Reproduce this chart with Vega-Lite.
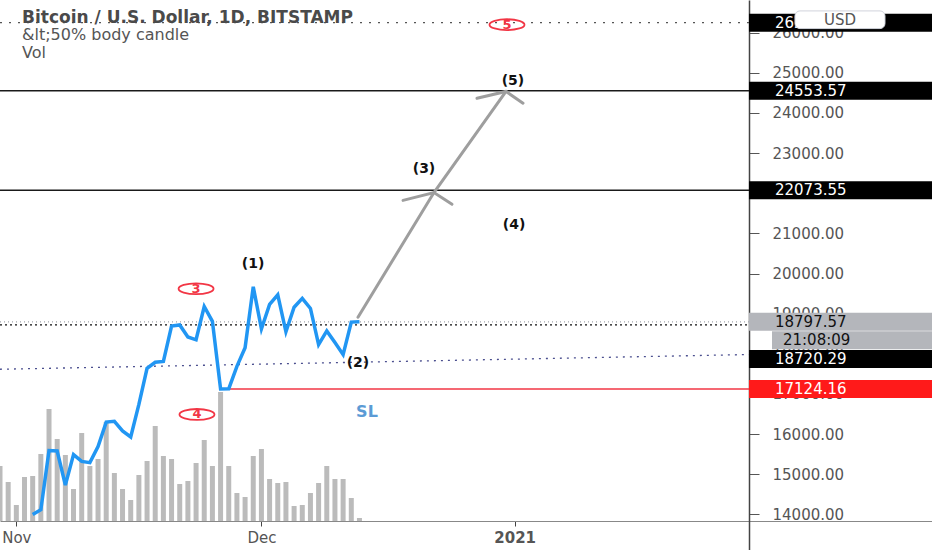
{
  "$schema": "https://vega.github.io/schema/vega-lite/v6.json",
  "width": 932,
  "height": 550,
  "autosize": {"type": "none"},
  "padding": 0,
  "background": "white",
  "title": {
    "text": "Bitcoin / U.S. Dollar, 1D, BITSTAMP",
    "subtitle": ["&lt;50% body candle", "Vol"],
    "anchor": "start",
    "frame": "group",
    "orient": "top",
    "offset": 0,
    "dx": 22,
    "dy": 62,
    "font": "DejaVu Sans",
    "fontSize": 17,
    "fontWeight": "bold",
    "color": "#4a4a4a",
    "subtitleFont": "DejaVu Sans",
    "subtitleFontSize": 16,
    "subtitleColor": "#555555",
    "subtitlePadding": 0,
    "subtitleLineHeight": 18
  },
  "datasets": {
    "daily": [
      {"date": "2020-10-30", "volume": 5500, "close": null},
      {"date": "2020-10-31", "volume": 3900, "close": null},
      {"date": "2020-11-01", "volume": 1600, "close": null},
      {"date": "2020-11-02", "volume": 4400, "close": null},
      {"date": "2020-11-03", "volume": 4500, "close": 14000},
      {"date": "2020-11-04", "volume": 6700, "close": 14120},
      {"date": "2020-11-05", "volume": 11200, "close": 15590},
      {"date": "2020-11-06", "volume": 8200, "close": 15580},
      {"date": "2020-11-07", "volume": 6600, "close": 14730},
      {"date": "2020-11-08", "volume": 3200, "close": 15490},
      {"date": "2020-11-09", "volume": 8800, "close": 15320},
      {"date": "2020-11-10", "volume": 5500, "close": 15290},
      {"date": "2020-11-11", "volume": 6200, "close": 15690},
      {"date": "2020-11-12", "volume": 9900, "close": 16300},
      {"date": "2020-11-13", "volume": 4800, "close": 16320},
      {"date": "2020-11-14", "volume": 3200, "close": 16080},
      {"date": "2020-11-15", "volume": 2100, "close": 15930},
      {"date": "2020-11-16", "volume": 4600, "close": 16740},
      {"date": "2020-11-17", "volume": 6000, "close": 17640},
      {"date": "2020-11-18", "volume": 9500, "close": 17790},
      {"date": "2020-11-19", "volume": 6500, "close": 17810},
      {"date": "2020-11-20", "volume": 6200, "close": 18690},
      {"date": "2020-11-21", "volume": 3700, "close": 18720},
      {"date": "2020-11-22", "volume": 4000, "close": 18420},
      {"date": "2020-11-23", "volume": 5800, "close": 18350},
      {"date": "2020-11-24", "volume": 8100, "close": 19180},
      {"date": "2020-11-25", "volume": 5500, "close": 18810},
      {"date": "2020-11-26", "volume": 12900, "close": 17124},
      {"date": "2020-11-27", "volume": 5500, "close": 17130},
      {"date": "2020-11-28", "volume": 2800, "close": 17690},
      {"date": "2020-11-29", "volume": 2400, "close": 18150},
      {"date": "2020-11-30", "volume": 6500, "close": 19670},
      {"date": "2020-12-01", "volume": 7200, "close": 18620},
      {"date": "2020-12-02", "volume": 4200, "close": 19230},
      {"date": "2020-12-03", "volume": 3800, "close": 19470},
      {"date": "2020-12-04", "volume": 3900, "close": 18550},
      {"date": "2020-12-05", "volume": 1500, "close": 19160},
      {"date": "2020-12-06", "volume": 1600, "close": 19380},
      {"date": "2020-12-07", "volume": 2800, "close": 19130},
      {"date": "2020-12-08", "volume": 3800, "close": 18230},
      {"date": "2020-12-09", "volume": 5500, "close": 18570},
      {"date": "2020-12-10", "volume": 4200, "close": 18280},
      {"date": "2020-12-11", "volume": 4200, "close": 17980},
      {"date": "2020-12-12", "volume": 2300, "close": 18790},
      {"date": "2020-12-13", "volume": 300, "close": 18797.57}
    ]
  },
  "layer": [
    {
      "data": {"name": "daily"},
      "mark": {"type": "bar", "size": 5, "color": "#bbbbbb"},
      "encoding": {
        "x": {
          "field": "date",
          "type": "temporal",
          "title": null,
          "scale": {
            "type": "utc",
            "padding": 0,
            "domain": [
              {"year": 2020, "month": "oct", "date": 30, "utc": true},
              {"year": 2021, "month": "feb", "date": 21, "hours": 2, "utc": true}
            ]
          },
          "axis": {
            "values": [
              {"year": 2020, "month": "nov", "date": 1, "utc": true},
              {"year": 2020, "month": "dec", "date": 1, "utc": true},
              {"year": 2021, "month": "jan", "date": 1, "utc": true}
            ],
            "labelExpr": "utcmonth(datum.value) === 0 ? utcFormat(datum.value, '%Y') : utcFormat(datum.value, '%b')",
            "labelFontWeight": {"condition": {"test": "utcmonth(datum.value) === 0", "value": "bold"}, "value": "normal"},
            "offset": -29,
            "grid": false,
            "tickSize": 5,
            "tickColor": "#444444",
            "domainColor": "#888888",
            "domainWidth": 1,
            "labelColor": "#555555",
            "labelFont": "DejaVu Sans",
            "labelFontSize": 15,
            "labelPadding": 4,
            "labelFlush": false,
            "labelOverlap": false
          }
        },
        "y": {
          "field": "volume",
          "type": "quantitative",
          "title": null,
          "scale": {"domain": [-2900, 52100], "nice": false, "zero": false},
          "axis": null
        }
      }
    },
    {
      "layer": [
        {
          "data": {"values": [
            {"level": 24553.57, "from": "2020-10-30T00:00:00Z", "to": "2021-01-29T16:20:00Z"},
            {"level": 22073.55, "from": "2020-10-30T00:00:00Z", "to": "2021-01-29T16:20:00Z"}
          ]},
          "mark": {"type": "rule", "color": "#1a1a1a", "strokeWidth": 1.5},
          "encoding": {
            "x": {"field": "from", "type": "temporal", "title": null},
            "x2": {"field": "to"},
            "y": {
              "field": "level",
              "type": "quantitative",
              "title": null,
              "scale": {"domain": [13239.6, 26687.3], "nice": false, "zero": false},
              "axis": {
                "orient": "right",
                "offset": -183,
                "values": [14000, 15000, 16000, 17000, 18000, 19000, 20000, 21000, 22000, 23000, 24000, 25000, 26000],
                "format": ".2f",
                "grid": false,
                "labelAlign": "left",
                "labelBaseline": "middle",
                "labelPadding": 13,
                "tickSize": 10,
                "tickColor": "#555555",
                "domainColor": "#444444",
                "domainWidth": 1.5,
                "labelColor": "#555555",
                "labelFont": "DejaVu Sans",
                "labelFontSize": 15,
                "labelOverlap": false,
                "labelFlush": false
              }
            }
          }
        },
        {
          "data": {"values": [
            {"level": 26247.51, "kind": "session", "from": "2020-10-30T00:00:00Z", "to": "2021-01-29T16:20:00Z"},
            {"level": 18797.57, "kind": "last", "from": "2020-10-30T00:00:00Z", "to": "2021-01-29T16:20:00Z"},
            {"level": 18720.29, "kind": "level", "from": "2020-10-30T00:00:00Z", "to": "2021-01-29T16:20:00Z"}
          ]},
          "mark": {"type": "rule", "strokeWidth": 1.3},
          "encoding": {
            "x": {"field": "from", "type": "temporal", "title": null},
            "x2": {"field": "to"},
            "y": {"field": "level", "type": "quantitative", "title": null},
            "stroke": {"field": "kind", "type": "nominal", "legend": null,
              "scale": {"domain": ["session", "last", "level"], "range": ["#555555", "#a3a6ad", "#111111"]}},
            "strokeDash": {"field": "kind", "type": "nominal", "legend": null,
              "scale": {"domain": ["session", "last", "level"], "range": [[2, 7], [1, 3], [2, 3]]}}
          }
        },
        {
          "data": {"values": [
            {"t": "2020-10-30T00:00:00Z", "price": 17616},
            {"t": "2021-01-29T16:20:00Z", "price": 17983}
          ]},
          "mark": {"type": "line", "color": "#4b4f8f", "strokeWidth": 1.3, "strokeDash": [2, 5]},
          "encoding": {
            "x": {"field": "t", "type": "temporal", "title": null},
            "y": {"field": "price", "type": "quantitative", "title": null}
          }
        },
        {
          "data": {"values": [
            {"level": 17124.16, "from": "2020-11-26T00:00:00Z", "to": "2021-01-29T16:20:00Z"}
          ]},
          "mark": {"type": "rule", "color": "#f23645", "strokeWidth": 1.5},
          "encoding": {
            "x": {"field": "from", "type": "temporal", "title": null},
            "x2": {"field": "to"},
            "y": {"field": "level", "type": "quantitative", "title": null}
          }
        },
        {
          "data": {"name": "daily"},
          "mark": {"type": "line", "color": "#2196f3", "strokeWidth": 3.5},
          "encoding": {
            "x": {"field": "date", "type": "temporal", "title": null},
            "y": {"field": "close", "type": "quantitative", "title": null}
          }
        },
        {
          "data": {"values": [
            {"part": "shaft", "ord": 1, "t": "2020-12-12T19:41:00Z", "price": 18912},
            {"part": "shaft", "ord": 2, "t": "2020-12-22T02:53:00Z", "price": 22017},
            {"part": "shaft", "ord": 3, "t": "2020-12-30T22:33:00Z", "price": 24535},
            {"part": "headB", "ord": 1, "t": "2020-12-18T07:55:00Z", "price": 21822},
            {"part": "headB", "ord": 2, "t": "2020-12-22T02:53:00Z", "price": 22017},
            {"part": "headB", "ord": 3, "t": "2020-12-24T07:55:00Z", "price": 21724},
            {"part": "headC", "ord": 1, "t": "2020-12-27T09:22:00Z", "price": 24364},
            {"part": "headC", "ord": 2, "t": "2020-12-30T22:33:00Z", "price": 24535},
            {"part": "headC", "ord": 3, "t": "2021-01-02T00:29:00Z", "price": 24242}
          ]},
          "mark": {"type": "line", "color": "#9e9e9e", "strokeWidth": 3, "strokeCap": "round"},
          "encoding": {
            "x": {"field": "t", "type": "temporal", "title": null},
            "y": {"field": "price", "type": "quantitative", "title": null},
            "detail": {"field": "part"},
            "order": {"field": "ord", "type": "quantitative"}
          }
        },
        {
          "data": {"values": [
            {"label": "3", "t": "2020-11-23T00:00:00Z", "price": 19621},
            {"label": "4", "t": "2020-11-23T02:40:00Z", "price": 16491},
            {"label": "5", "t": "2020-12-31T01:26:00Z", "price": 26198}
          ]},
          "layer": [
            {
              "mark": {"type": "point", "shape": "M-1,0A1,0.31,0,1,0,1,0A1,0.31,0,1,0,-1,0Z", "size": 1225, "filled": false, "stroke": "#f23645", "strokeWidth": 1.8, "opacity": 1},
              "encoding": {
                "x": {"field": "t", "type": "temporal", "title": null},
                "y": {"field": "price", "type": "quantitative", "title": null}
              }
            },
            {
              "mark": {"type": "text", "color": "#f23645", "font": "DejaVu Sans", "fontSize": 13, "fontWeight": "bold", "baseline": "middle", "align": "center"},
              "encoding": {
                "x": {"field": "t", "type": "temporal", "title": null},
                "y": {"field": "price", "type": "quantitative", "title": null},
                "text": {"field": "label"}
              }
            }
          ]
        },
        {
          "data": {"values": [
            {"wave": "(1)", "t": "2020-11-29T23:17:00Z", "price": 20232},
            {"wave": "(2)", "t": "2020-12-12T19:41:00Z", "price": 17763},
            {"wave": "(3)", "t": "2020-12-20T21:36:00Z", "price": 22604},
            {"wave": "(4)", "t": "2020-12-31T22:05:00Z", "price": 21210},
            {"wave": "(5)", "t": "2020-12-31T19:00:00Z", "price": 24804}
          ]},
          "mark": {"type": "text", "color": "#111111", "font": "DejaVu Sans", "fontSize": 14, "fontWeight": "bold", "baseline": "middle", "align": "center"},
          "encoding": {
            "x": {"field": "t", "type": "temporal", "title": null},
            "y": {"field": "price", "type": "quantitative", "title": null},
            "text": {"field": "wave"}
          }
        },
        {
          "data": {"values": [
            {"note": "SL", "t": "2020-12-13T22:05:00Z", "price": 16540}
          ]},
          "mark": {"type": "text", "color": "#5b9bd5", "font": "DejaVu Sans", "fontSize": 16, "fontWeight": "bold", "baseline": "middle", "align": "center"},
          "encoding": {
            "x": {"field": "t", "type": "temporal", "title": null},
            "y": {"field": "price", "type": "quantitative", "title": null},
            "text": {"field": "note"}
          }
        },
        {
          "data": {"values": [
            {"label": "26247.51", "pos": 26247.51, "kind": "level", "from": "2021-01-29T16:20:00Z", "tx": "2021-02-01T20:40:00Z"},
            {"label": "24553.57", "pos": 24553.57, "kind": "level", "from": "2021-01-29T16:20:00Z", "tx": "2021-02-01T20:40:00Z"},
            {"label": "22073.55", "pos": 22073.55, "kind": "level", "from": "2021-01-29T16:20:00Z", "tx": "2021-02-01T20:40:00Z"},
            {"label": "18797.57", "pos": 18797.57, "kind": "last", "from": "2021-01-29T16:20:00Z", "tx": "2021-02-01T20:40:00Z"},
            {"label": "21:08:09", "pos": 18337, "kind": "last", "from": "2021-02-01T12:00:00Z", "tx": "2021-02-02T20:10:00Z"},
            {"label": "18720.29", "pos": 17873, "kind": "level", "from": "2021-01-29T16:20:00Z", "tx": "2021-02-01T20:40:00Z"},
            {"label": "17124.16", "pos": 17124.16, "kind": "stop", "from": "2021-01-29T16:20:00Z", "tx": "2021-02-01T20:40:00Z"}
          ]},
          "layer": [
            {
              "mark": {"type": "bar", "size": 18},
              "encoding": {
                "x": {"field": "from", "type": "temporal", "title": null},
                "x2": {"datum": {"year": 2021, "month": "feb", "date": 21, "hours": 2, "utc": true}},
                "y": {"field": "pos", "type": "quantitative", "title": null},
                "color": {"field": "kind", "type": "nominal", "legend": null,
                  "scale": {"domain": ["level", "last", "stop"], "range": ["#000000", "#b4b6bb", "#ff1a1a"]}}
              }
            },
            {
              "mark": {"type": "text", "font": "DejaVu Sans", "fontSize": 15, "align": "left", "baseline": "middle"},
              "encoding": {
                "x": {"field": "tx", "type": "temporal", "title": null},
                "y": {"field": "pos", "type": "quantitative", "title": null},
                "text": {"field": "label"},
                "fill": {"field": "kind", "type": "nominal", "legend": null,
                  "scale": {"domain": ["level", "last", "stop"], "range": ["#ffffff", "#111111", "#ffffff"]}}
              }
            }
          ]
        },
        {
          "data": {"values": [
            {"currency": "USD", "from": "2021-02-04T07:26:00Z", "to": "2021-02-15T07:55:00Z", "mid": "2021-02-09T19:40:00Z", "top": 26540, "bottom": 26100, "pos": 26320}
          ]},
          "layer": [
            {
              "mark": {"type": "rect", "fill": "#ffffff", "stroke": "#d1d4dc", "strokeWidth": 1, "cornerRadius": 5},
              "encoding": {
                "x": {"field": "from", "type": "temporal", "title": null},
                "x2": {"field": "to"},
                "y": {"field": "top", "type": "quantitative", "title": null},
                "y2": {"field": "bottom"}
              }
            },
            {
              "mark": {"type": "text", "font": "DejaVu Sans", "fontSize": 15, "color": "#555555", "align": "center", "baseline": "middle"},
              "encoding": {
                "x": {"field": "mid", "type": "temporal", "title": null},
                "y": {"field": "pos", "type": "quantitative", "title": null},
                "text": {"field": "currency"}
              }
            }
          ]
        }
      ]
    }
  ],
  "resolve": {"scale": {"y": "independent"}},
  "config": {
    "view": {"stroke": null},
    "axis": {"grid": false}
  }
}
